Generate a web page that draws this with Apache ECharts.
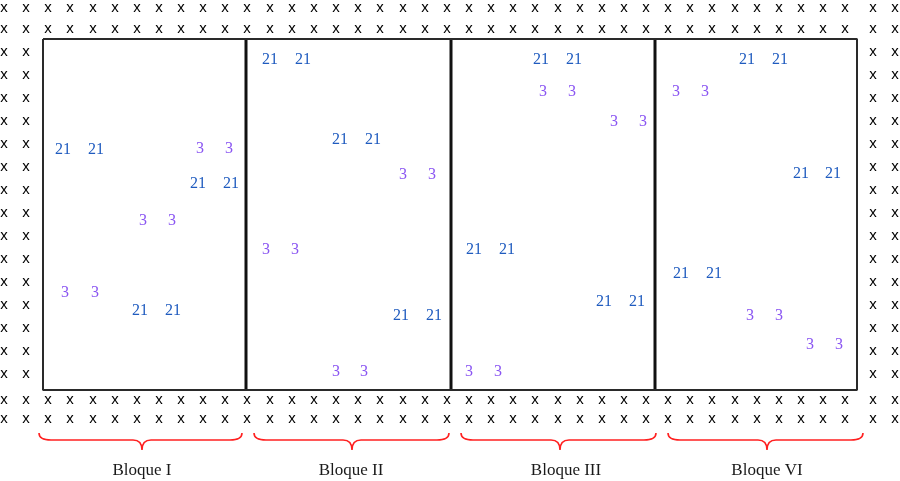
<!DOCTYPE html>
<html>
<head>
<meta charset="utf-8">
<script src="https://cdn.jsdelivr.net/npm/echarts@6/dist/echarts.min.js"></script>
<style>
html,body{margin:0;padding:0;background:#fff;}
#chart{width:900px;height:481px;}
</style>
</head>
<body>
<div id="chart"></div>
<script>
// ---- Field layout data (field units) ----
// Border plant ("x") columns used in the top and bottom border rows
const borderCols = [4,26,48,70,93,115,137,159,181,203,225,247,270,292,314,336,358,380,403,425,447,469,491,513,535,558,580,602,624,646,668,690,712,735,757,779,801,823,845,873,895];
// Border rows above and below the field
const borderRows = [8,29,400,419];
// Border plant columns at the left and right side of the field
const sideCols = [4,26,873,895];
// Side border rows
const sideRows = [52,75,98,121,144,167,190,213,236,259,282,305,328,351,374];

// Field box: top/bottom and block boundaries
const fieldTop = 39;
const fieldBottom = 390;
const blockEdges = [43,246,451,655,857];

// Treatment "21" plot labels [x, y]
const plots21 = [
  [63,148],[96,148],[198,182],[231,182],[140,309],[173,309],
  [270,58],[303,58],[340,138],[373,138],[401,314],[434,314],
  [541,58],[574,58],[474,248],[507,248],[604,300],[637,300],
  [747,58],[780,58],[801,172],[833,172],[681,272],[714,272]
];
// Treatment "3" plot labels [x, y]
const plots3 = [
  [200,147],[229,147],[143,219],[172,219],[65,291],[95,291],
  [403,173],[432,173],[266,248],[295,248],[336,370],[364,370],
  [543,90],[572,90],[614,120],[643,120],[469,370],[498,370],
  [676,90],[705,90],[750,314],[779,314],[810,343],[839,343]
];

// Blocks: names, brace spans, brace peak, label centre
const blockNames = ['Bloque I','Bloque II','Bloque III','Bloque VI'];
const braceStart = [39,254,461,668];
const braceEnd = [242,449,656,863];
const bracePeak = [142,352,560,767];
const blockLabelX = [142,351,566,767];
const braceLevel = 440;
const blockLabelY = 470;

// ---- build data ----
const borderData = [];
borderRows.forEach(r => borderCols.forEach(c => borderData.push([c, r])));
sideRows.forEach(r => sideCols.forEach(c => borderData.push([c, r])));

const braceData = braceStart.map((s, i) => [s, braceEnd[i], bracePeak[i], braceLevel]);
const blockLabelData = blockNames.map((n, i) => [blockLabelX[i], blockLabelY, n]);

function textSeries(name, data, text, color, font, dy) {
  return {
    type: 'custom', name, coordinateSystem: 'cartesian2d', silent: true,
    data,
    renderItem: function (params, api) {
      const p = api.coord([api.value(0), api.value(1)]);
      return {
        type: 'text', x: p[0], y: p[1] + (dy || 0),
        style: {
          text: text != null ? text : String(api.value(2)),
          fill: color, font: font, align: 'center', verticalAlign: 'middle'
        }
      };
    }
  };
}

const chart = echarts.init(document.getElementById('chart'), null, {renderer: 'canvas'});
const option = {
  animation: false,
  backgroundColor: '#ffffff',
  grid: {left: 0, right: 0, top: 0, bottom: 0},
  xAxis: {type: 'value', min: 0, max: 900, show: false},
  yAxis: {type: 'value', min: 0, max: 481, inverse: true, show: false},
  series: [
    // field outline
    {
      type: 'line', silent: true, symbol: 'none',
      data: [[blockEdges[0], fieldTop],[blockEdges[4], fieldTop],[blockEdges[4], fieldBottom],[blockEdges[0], fieldBottom],[blockEdges[0], fieldTop]],
      lineStyle: {color: '#2a2a2a', width: 2}
    },
    // block dividers
    {
      type: 'custom', silent: true, coordinateSystem: 'cartesian2d',
      data: blockEdges.slice(1, 4).map(x => [x]),
      renderItem: function (params, api) {
        const a = api.coord([api.value(0), fieldTop]);
        const b = api.coord([api.value(0), fieldBottom]);
        return {type: 'line', shape: {x1: a[0], y1: a[1], x2: b[0], y2: b[1]}, style: {stroke: '#111', lineWidth: 3}};
      }
    },
    textSeries('border', borderData, 'x', '#000', '15px "Liberation Sans", Arial, sans-serif', 0),
    textSeries('21', plots21, '21', '#1f5bbf', '16px "Liberation Serif", "Times New Roman", serif', 1.5),
    textSeries('3', plots3, '3', '#8a55f2', '16px "Liberation Serif", "Times New Roman", serif', 1.5),
    // braces
    {
      type: 'custom', silent: true, coordinateSystem: 'cartesian2d',
      data: braceData,
      renderItem: function (params, api) {
        const s = api.coord([api.value(0), api.value(3)]);
        const e = api.coord([api.value(1), api.value(3)]);
        const c = api.coord([api.value(2), api.value(3)]);
        const y = s[1];
        const d = 'M' + s[0] + ' ' + (y - 7) +
          ' Q' + s[0] + ' ' + y + ' ' + (s[0] + 12) + ' ' + y +
          ' L' + (c[0] - 9) + ' ' + y +
          ' Q' + c[0] + ' ' + y + ' ' + c[0] + ' ' + (y + 10) +
          ' Q' + c[0] + ' ' + y + ' ' + (c[0] + 9) + ' ' + y +
          ' L' + (e[0] - 12) + ' ' + y +
          ' Q' + e[0] + ' ' + y + ' ' + e[0] + ' ' + (y - 7);
        return {type: 'path', shape: {pathData: d}, style: {fill: null, stroke: '#ff2020', lineWidth: 1.6}};
      }
    },
    textSeries('blocks', blockLabelData, null, '#1a1a1a', '17px "Liberation Serif", "Times New Roman", serif', 1)
  ]
};
chart.setOption(option);
</script>
</body>
</html>
